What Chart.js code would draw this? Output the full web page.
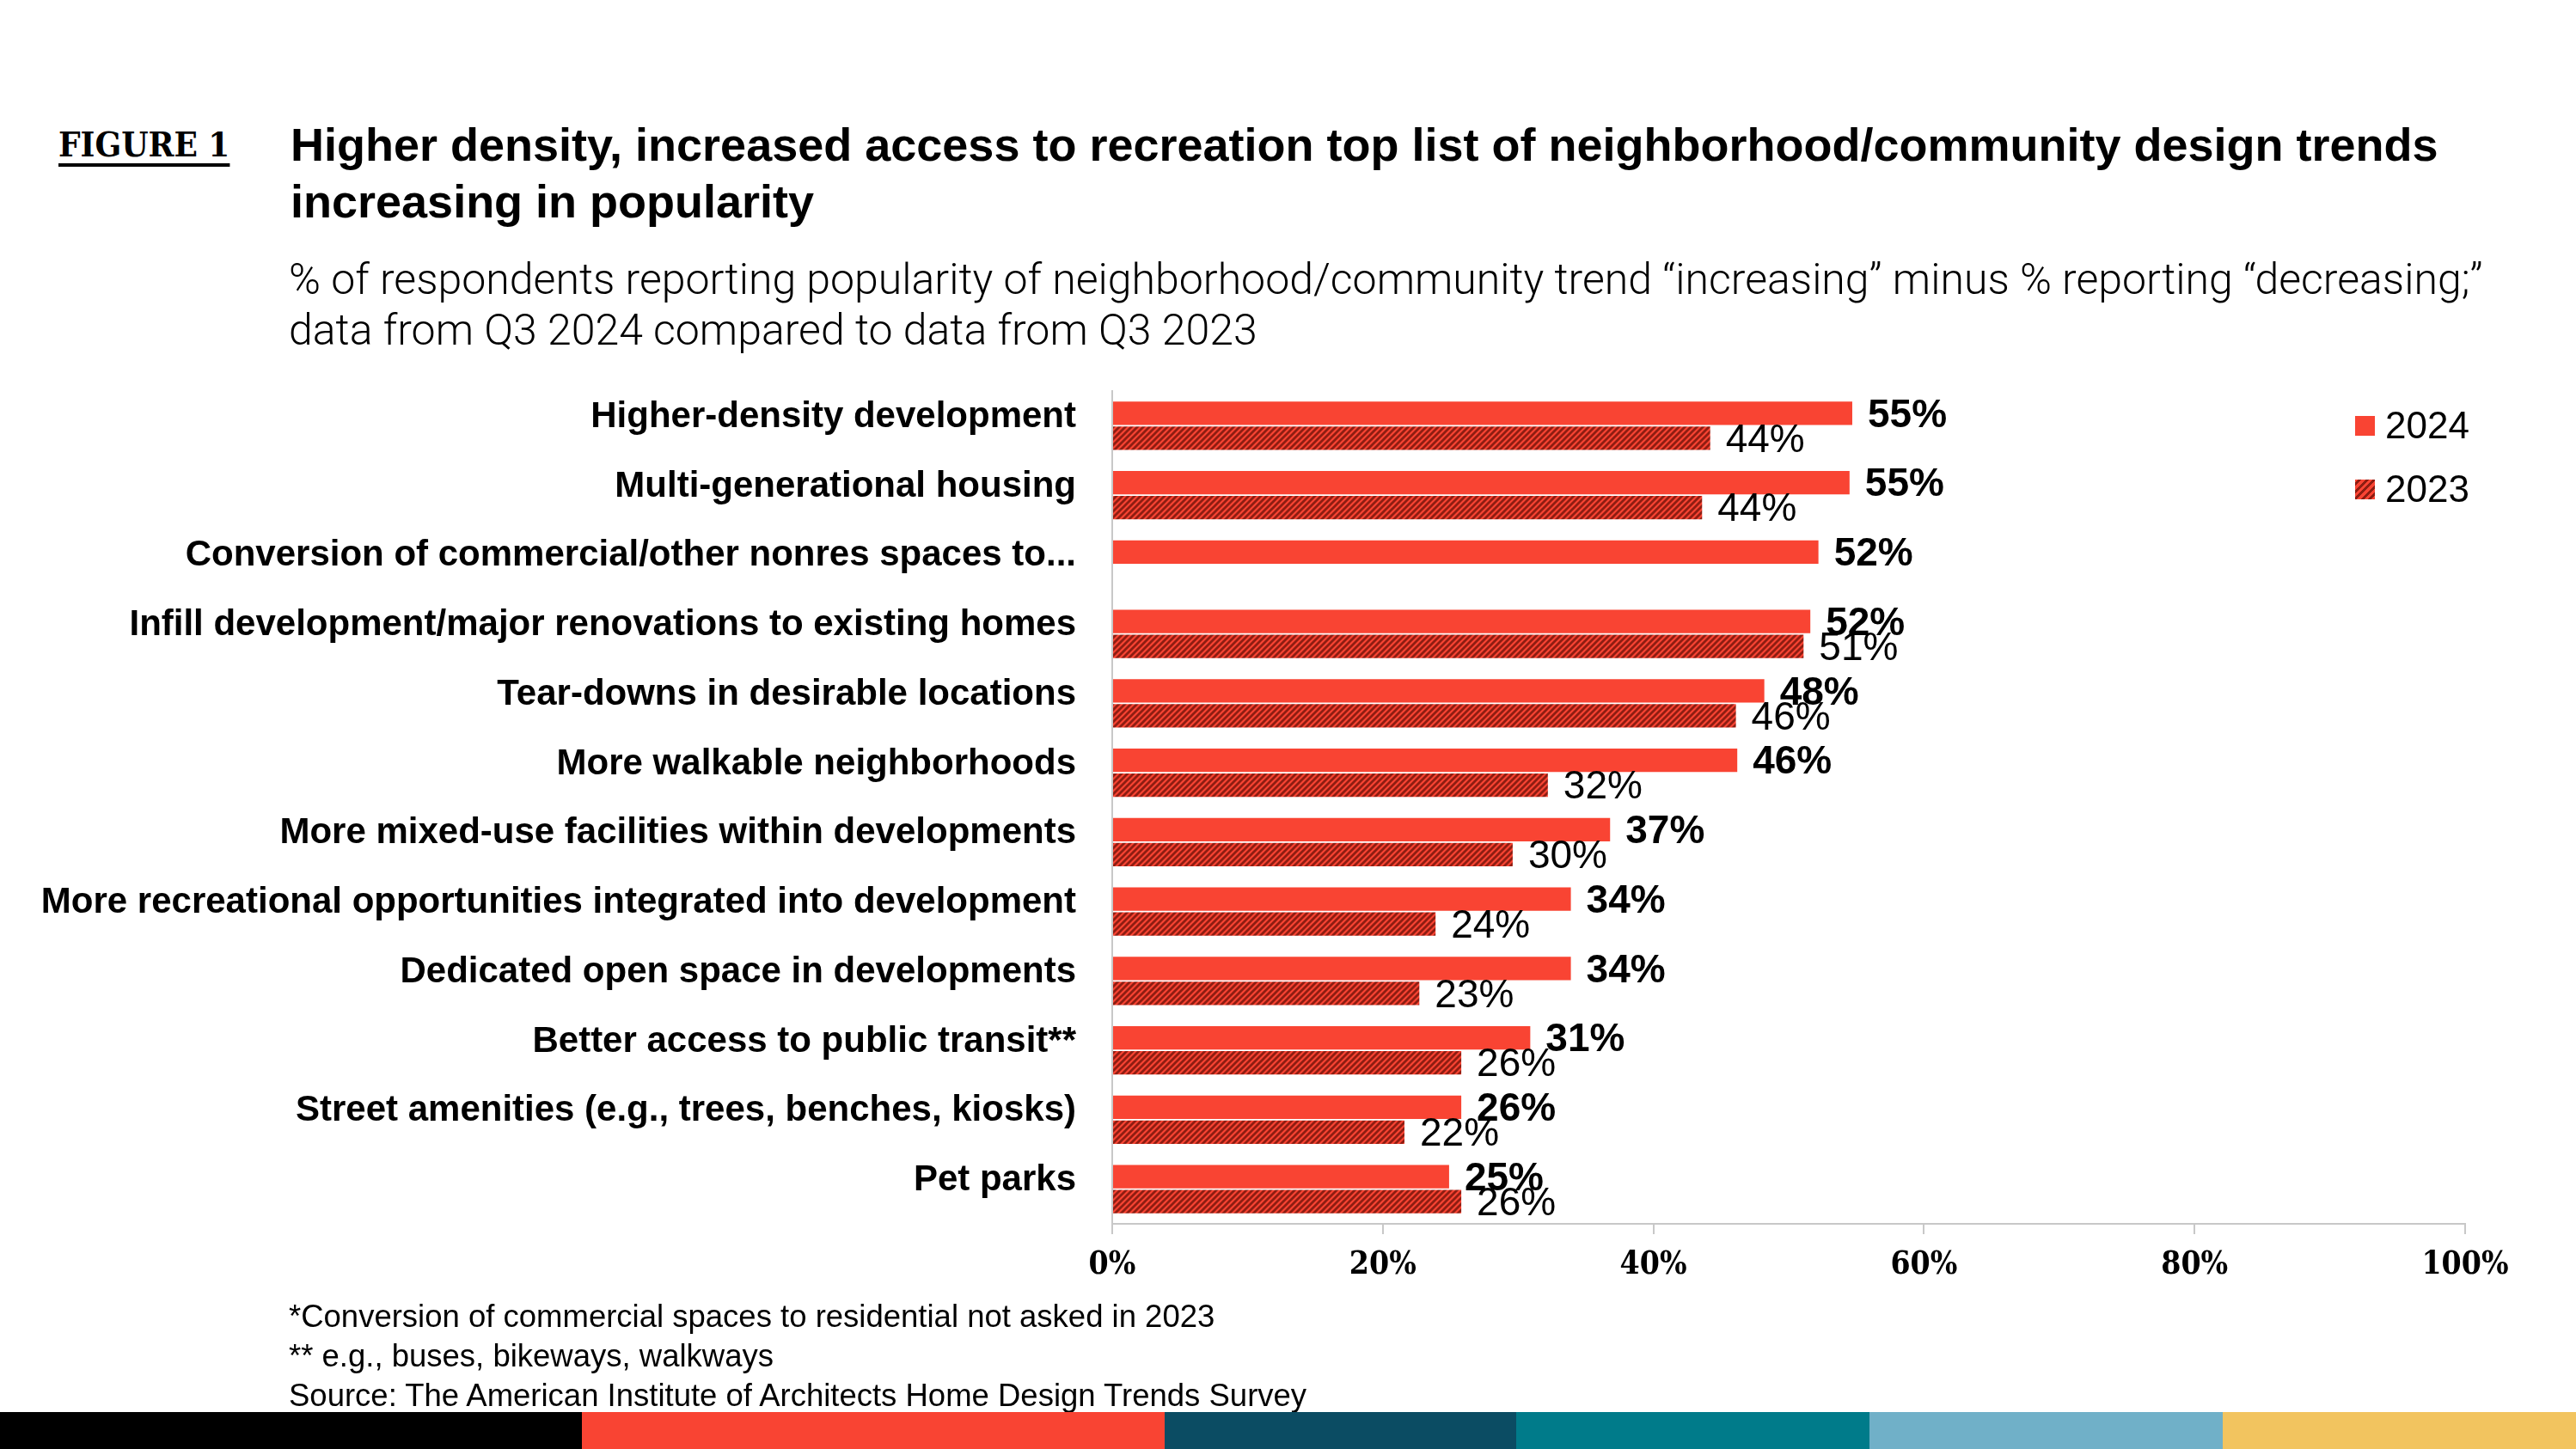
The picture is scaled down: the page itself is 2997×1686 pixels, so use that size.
<!DOCTYPE html>
<html>
<head>
<meta charset="utf-8">
<script src="https://cdn.jsdelivr.net/npm/chart.js@4.4.1/dist/chart.umd.min.js"></script>
<style>
  html, body { margin:0; padding:0; background:#fff; }
  body { width:2997px; height:1686px; position:relative; overflow:hidden; font-family:"Liberation Sans", Arial, sans-serif; color:#000; }
  .abs { position:absolute; white-space:nowrap; }
  #fig { left:68px; top:143px; font-family:"DejaVu Serif Condensed","DejaVu Serif",serif; font-weight:bold; font-size:40px; line-height:50px; text-decoration:underline; text-decoration-thickness:4px; text-underline-offset:8px; }
  #title { left:338px; top:135px; font-weight:bold; font-size:54px; line-height:66px; }
  #sub { left:336px; top:296px; font-family:Roboto,"Liberation Sans",sans-serif; font-weight:300; font-size:50px; line-height:59px; }
  #notes { left:336px; top:1509px; font-size:36.5px; line-height:46px; }
  #chartBox { position:absolute; left:0; top:0; width:2997px; height:1686px; }
  .leg { position:absolute; left:2740px; font-family:"Liberation Sans",Arial,sans-serif; font-size:44px; line-height:50px; }
  .sw { display:inline-block; width:23px; height:23px; vertical-align:middle; margin-right:12px; position:relative; top:-3px; }
  #bottom { position:absolute; left:0; top:1643px; width:2997px; height:43px; display:flex; }
  #bottom div { height:43px; }
</style>
</head>
<body>
<div id="fig" class="abs">FIGURE 1</div>
<div id="title" class="abs">Higher density, increased access to recreation top list of neighborhood/community design trends<br>increasing in popularity</div>
<div id="sub" class="abs">% of respondents reporting popularity of neighborhood/community trend “increasing” minus % reporting “decreasing;”<br>data from Q3 2024 compared to data from Q3 2023</div>
<div id="chartBox"><canvas id="c" width="2997" height="1686"></canvas></div>
<div class="leg" style="top:470px;"><span class="sw" style="background:#F94433;"></span>2024</div>
<div class="leg" style="top:544px;"><span class="sw" style="background:repeating-linear-gradient(-45deg,#F94433 0 3px,#8E1D12 3px 6px);"></span>2023</div>
<div id="notes" class="abs">*Conversion of commercial spaces to residential not asked in 2023<br>** e.g., buses, bikeways, walkways<br>Source: The American Institute of Architects Home Design Trends Survey</div>
<div id="bottom">
  <div style="width:677px;background:#000;"></div>
  <div style="width:678px;background:#F94433;"></div>
  <div style="width:409px;background:#0B4C63;"></div>
  <div style="width:411px;background:#007B8A;"></div>
  <div style="width:411px;background:#70B0C8;"></div>
  <div style="width:411px;background:#F2C45F;"></div>
</div>
<script>
const categories = [
  "Higher-density development",
  "Multi-generational housing",
  "Conversion of commercial/other nonres spaces to...",
  "Infill development/major renovations to existing homes",
  "Tear-downs in desirable locations",
  "More walkable neighborhoods",
  "More mixed-use facilities within developments",
  "More recreational opportunities integrated into development",
  "Dedicated open space in developments",
  "Better access to public transit**",
  "Street amenities (e.g., trees, benches, kiosks)",
  "Pet parks"
];
const values2024 = [54.7, 54.5, 52.2, 51.6, 48.2, 46.2, 36.8, 33.9, 33.9, 30.9, 25.8, 24.9];
const values2023 = [44.2, 43.6, null, 51.1, 46.1, 32.2, 29.6, 23.9, 22.7, 25.8, 21.6, 25.8];
const xTicks = [0, 20, 40, 60, 80, 100];
const seriesNames = ["2024", "2023"];

const RED = "#F94433";
const DARK = "#8E1D12";

function makeHatch() {
  const t = document.createElement("canvas");
  t.width = 7; t.height = 7;
  const g = t.getContext("2d");
  g.fillStyle = RED; g.fillRect(0, 0, 7, 7);
  g.strokeStyle = DARK; g.lineWidth = 2.8;
  g.beginPath();
  g.moveTo(-1, 8); g.lineTo(8, -1);
  g.moveTo(-4.5, 4.5); g.lineTo(4.5, -4.5);
  g.moveTo(2.5, 11.5); g.lineTo(11.5, 2.5);
  g.stroke();
  return g.createPattern(t, "repeat");
}

const valueLabels = {
  id: "valueLabels",
  afterDatasetsDraw(chart) {
    const ctx = chart.ctx;
    chart.data.datasets.forEach((ds, di) => {
      const meta = chart.getDatasetMeta(di);
      meta.data.forEach((el, i) => {
        const v = ds.data[i];
        if (v === null || v === undefined) return;
        ctx.save();
        ctx.font = (di === 0 ? "bold " : "") + "46px 'Liberation Sans', Arial, sans-serif";
        ctx.fillStyle = "#000";
        ctx.textAlign = "left";
        ctx.textBaseline = "middle";
        ctx.fillText(Math.round(v) + "%", el.x + 18, el.y + 3);
        ctx.restore();
      });
    });
  }
};

new Chart(document.getElementById("c"), {
  type: "bar",
  data: {
    labels: categories,
    datasets: [
      { label: seriesNames[0], data: values2024, backgroundColor: RED, borderWidth: 0 },
      { label: seriesNames[1], data: values2023, backgroundColor: makeHatch(), borderWidth: 0 }
    ]
  },
  options: {
    indexAxis: "y",
    responsive: false,
    animation: false,
    events: [],
    layout: { padding: { left: 0, right: 129, top: 455, bottom: 182 } },
    datasets: { bar: { barPercentage: 0.94, categoryPercentage: 0.72 } },
    plugins: { legend: { display: false }, tooltip: { enabled: false } },
    scales: {
      x: {
        min: 0, max: 100,
        afterBuildTicks(scale) { scale.ticks = xTicks.map(v => ({ value: v })); },
        afterFit(scale) { scale.height = 80; },
        grid: { display: true, drawOnChartArea: false, drawTicks: true, tickLength: 12, color: "#c8c8c8", lineWidth: 2 },
        border: { display: true, color: "#c8c8c8", width: 2 },
        ticks: {
          padding: 14,
          color: "#000",
          font: { family: "'DejaVu Serif Condensed','DejaVu Serif',serif", weight: "bold", size: 37 },
          callback: v => v + "%",
          maxRotation: 0
        }
      },
      y: {
        afterFit(scale) { scale.width = 1294; },
        grid: { display: false },
        border: { display: true, color: "#c8c8c8", width: 2 },
        ticks: {
          padding: 34,
          labelOffset: -10,
          color: "#000",
          autoSkip: false,
          font: { family: "'Liberation Sans', Arial, sans-serif", weight: "bold", size: 42 }
        }
      }
    }
  },
  plugins: [valueLabels]
});
</script>
</body>
</html>
